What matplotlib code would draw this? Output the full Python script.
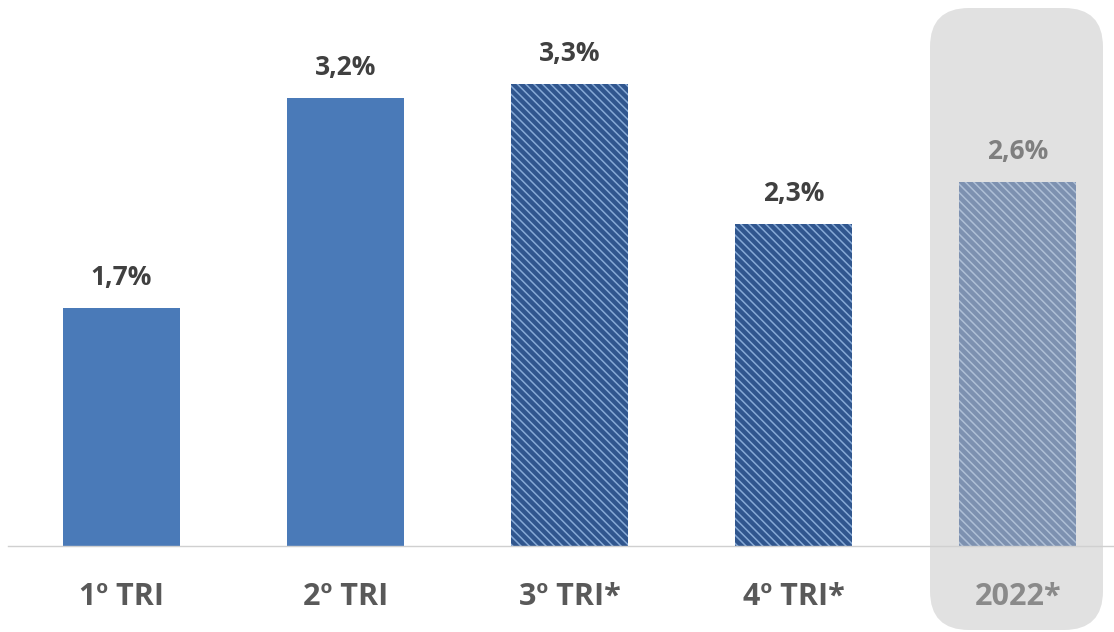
import matplotlib
matplotlib.use("Agg")
import matplotlib.pyplot as plt
from matplotlib.patches import FancyBboxPatch

categories = ["1º TRI", "2º TRI", "3º TRI*", "4º TRI*", "2022*"]
values = [1.7, 3.2, 3.3, 2.3, 2.6]
labels = ["1,7%", "3,2%", "3,3%", "2,3%", "2,6%"]

plt.rcParams['font.family'] = ['Open Sans', 'DejaVu Sans']

fig = plt.figure(figsize=(11.14, 6.32), dpi=100)
W, H = 1114, 632

# grey highlight behind the 2022 column
box = FancyBboxPatch((930 / W, 2 / H), 173 / W, 622 / H,
                     boxstyle="round,pad=0,rounding_size=0.035",
                     transform=fig.transFigure, facecolor="#e1e1e1",
                     edgecolor="none", zorder=-1, mutation_aspect=W / H)
fig.patches.append(box)

ax = fig.add_axes([8 / W, 86 / H, 1 - 8 / W, 546 / H])
ax.set_facecolor("none")

x = list(range(len(categories)))
faces = ["#4a7ab8", "#4a7ab8", "#30568e", "#30568e", "#7d91b0"]
hatch_cols = ["#4a7ab8", "#4a7ab8", "#86a9d6", "#86a9d6", "#aebfd6"]
hatches = [None, None, "\\\\\\\\", "\\\\\\\\", "\\\\\\\\"]
plt.rcParams['hatch.linewidth'] = 1.1

for i in x:
    ax.bar(i, values[i], width=0.52, color=faces[i], edgecolor=hatch_cols[i],
           hatch=hatches[i], linewidth=0)
    col = "#7f7f7f" if i == 4 else "#404040"
    ax.annotate(labels[i], (i, values[i]), xytext=(0, 22), textcoords="offset points",
                ha="center", va="center", fontsize=19, fontweight="bold", color=col)
    tcol = "#8a8a8a" if i == 4 else "#595959"
    ax.text(i, -51 / 140, categories[i], ha="center", va="center", fontsize=22,
            fontweight="bold", color=tcol, clip_on=False)

ax.set_xlim(-0.507, 4.43)
ax.set_ylim(0, 546 / 140)
for s in ["top", "right", "left"]:
    ax.spines[s].set_visible(False)
ax.spines["bottom"].set_color("#d0d0d0")
ax.spines["bottom"].set_linewidth(1)
ax.set_xticks([])
ax.set_yticks([])

fig.savefig("out.png", dpi=100)
